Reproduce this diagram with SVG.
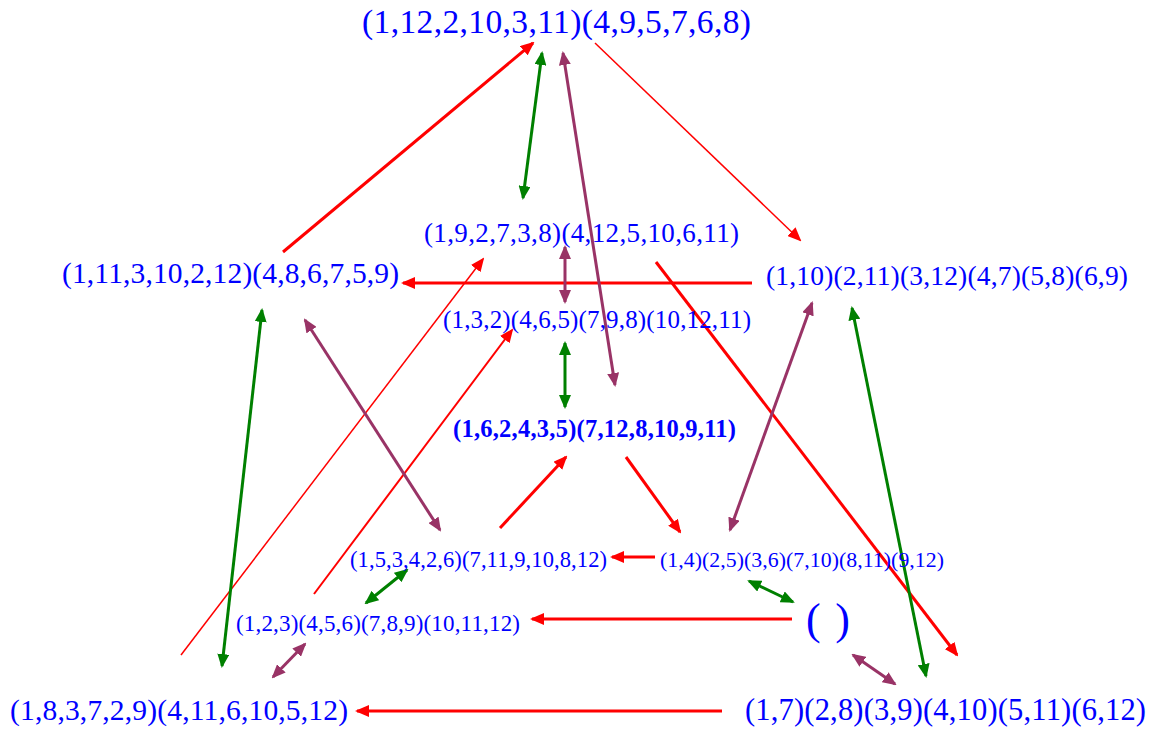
<svg xmlns="http://www.w3.org/2000/svg" width="1159" height="735" viewBox="0 0 1159 735">
  <style>
    text { font-family: "Liberation Serif", "Times New Roman", serif; fill: #0000ff; }
    .r { stroke: #ff0000; fill: none; }
    .g { stroke: #008000; fill: none; stroke-width: 3; }
    .p { stroke: #993366; fill: none; stroke-width: 3; }
  </style>
  <defs>
    <marker id="hr" viewBox="0 0 14 12" markerUnits="userSpaceOnUse" markerWidth="14" markerHeight="12" refX="12" refY="6" orient="auto-start-reverse">
      <path d="M0,0 L14,6 L0,12 z" fill="#ff0000"/>
    </marker>
    <marker id="hg" viewBox="0 0 14 12" markerUnits="userSpaceOnUse" markerWidth="14" markerHeight="12" refX="12" refY="6" orient="auto-start-reverse">
      <path d="M0,0 L14,6 L0,12 z" fill="#008000"/>
    </marker>
    <marker id="hp" viewBox="0 0 14 12" markerUnits="userSpaceOnUse" markerWidth="14" markerHeight="12" refX="12" refY="6" orient="auto-start-reverse">
      <path d="M0,0 L14,6 L0,12 z" fill="#993366"/>
    </marker>
  </defs>
  <rect width="1159" height="735" fill="#ffffff"/>

  <g id="connectors">
    <!-- red -->
    <line class="r" stroke-width="3" x1="283" y1="252" x2="533" y2="43" marker-end="url(#hr)"/>
    <line class="r" stroke-width="1.5" x1="595" y1="43" x2="800" y2="240" marker-end="url(#hr)"/>
    <line class="r" stroke-width="3" x1="752" y1="283" x2="403" y2="283" marker-end="url(#hr)"/>
    <line class="r" stroke-width="1.5" x1="181" y1="655" x2="483" y2="259" marker-end="url(#hr)"/>
    <line class="r" stroke-width="2" x1="314" y1="594" x2="512" y2="330" marker-end="url(#hr)"/>
    <line class="r" stroke-width="3" x1="656" y1="262" x2="957" y2="655" marker-end="url(#hr)"/>
    <line class="r" stroke-width="3" x1="500" y1="528" x2="566" y2="457" marker-end="url(#hr)"/>
    <line class="r" stroke-width="3" x1="626" y1="457" x2="680" y2="532" marker-end="url(#hr)"/>
    <line class="r" stroke-width="3" x1="655" y1="557" x2="612" y2="557" marker-end="url(#hr)"/>
    <line class="r" stroke-width="3" x1="792" y1="619" x2="532" y2="619" marker-end="url(#hr)"/>
    <line class="r" stroke-width="3" x1="722" y1="711" x2="357" y2="711" marker-end="url(#hr)"/>
    <!-- green -->
    <line class="g" x1="542" y1="53" x2="523" y2="198" marker-start="url(#hg)" marker-end="url(#hg)"/>
    <line class="g" x1="565" y1="343" x2="565" y2="407" marker-start="url(#hg)" marker-end="url(#hg)"/>
    <line class="g" x1="262" y1="310" x2="222" y2="666" marker-start="url(#hg)" marker-end="url(#hg)"/>
    <line class="g" x1="852" y1="308" x2="926" y2="676" marker-start="url(#hg)" marker-end="url(#hg)"/>
    <line class="g" x1="407" y1="570" x2="366" y2="603" marker-start="url(#hg)" marker-end="url(#hg)"/>
    <line class="g" x1="749" y1="581" x2="793" y2="602" marker-start="url(#hg)" marker-end="url(#hg)"/>
    <!-- purple -->
    <line class="p" x1="563" y1="53" x2="615" y2="385" marker-start="url(#hp)" marker-end="url(#hp)"/>
    <line class="p" x1="565" y1="247" x2="565" y2="302" marker-start="url(#hp)" marker-end="url(#hp)"/>
    <line class="p" x1="305" y1="320" x2="440" y2="530" marker-start="url(#hp)" marker-end="url(#hp)"/>
    <line class="p" x1="812" y1="303" x2="730" y2="530" marker-start="url(#hp)" marker-end="url(#hp)"/>
    <line class="p" x1="305" y1="644" x2="273" y2="677" marker-start="url(#hp)" marker-end="url(#hp)"/>
    <line class="p" x1="853" y1="655" x2="895" y2="684" marker-start="url(#hp)" marker-end="url(#hp)"/>
  </g>

  <g id="n1"><text x="362" y="33" font-size="33.5" textLength="389" lengthAdjust="spacing">(1,12,2,10,3,11)(4,9,5,7,6,8)</text></g>
  <g id="n2"><text x="424" y="242" font-size="27" textLength="315" lengthAdjust="spacing">(1,9,2,7,3,8)(4,12,5,10,6,11)</text></g>
  <g id="n3"><text x="62" y="283" font-size="29.5" textLength="337" lengthAdjust="spacing">(1,11,3,10,2,12)(4,8,6,7,5,9)</text></g>
  <g id="n4"><text x="766" y="285" font-size="27.5" textLength="362" lengthAdjust="spacing">(1,10)(2,11)(3,12)(4,7)(5,8)(6,9)</text></g>
  <g id="n5"><text x="443" y="328" font-size="25" textLength="308" lengthAdjust="spacing">(1,3,2)(4,6,5)(7,9,8)(10,12,11)</text></g>
  <g id="n6"><text x="453" y="437" font-size="24.5" font-weight="bold" textLength="283" lengthAdjust="spacing">(1,6,2,4,3,5)(7,12,8,10,9,11)</text></g>
  <g id="n7"><text x="350" y="567" font-size="22.5" textLength="257" lengthAdjust="spacing">(1,5,3,4,2,6)(7,11,9,10,8,12)</text></g>
  <g id="n8"><text x="660" y="567" font-size="21.8" textLength="284" lengthAdjust="spacing">(1,4)(2,5)(3,6)(7,10)(8,11)(9,12)</text></g>
  <g id="n9"><text x="236" y="631" font-size="23" textLength="284" lengthAdjust="spacing">(1,2,3)(4,5,6)(7,8,9)(10,11,12)</text></g>
  <g id="n10"><text x="806" y="634" font-size="44" textLength="44" lengthAdjust="spacing">( )</text></g>
  <g id="n11"><text x="10" y="720" font-size="29.5" textLength="338" lengthAdjust="spacing">(1,8,3,7,2,9)(4,11,6,10,5,12)</text></g>
  <g id="n12"><text x="745" y="720" font-size="30.5" textLength="401" lengthAdjust="spacing">(1,7)(2,8)(3,9)(4,10)(5,11)(6,12)</text></g>
</svg>
